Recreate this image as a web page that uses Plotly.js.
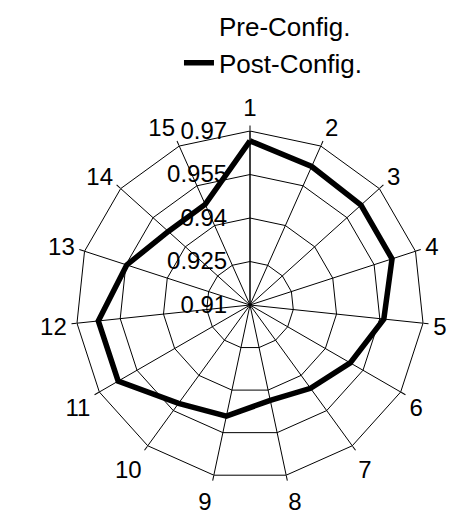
<!DOCTYPE html>
<html>
<head>
<meta charset="utf-8">
<script src="https://cdn.plot.ly/plotly-3.0.1.min.js"></script>
<style>html,body{margin:0;padding:0;background:#fff;}</style>
</head>
<body>
<div id="chart" style="width:471px;height:514px;"></div>
<script>
const categories = ['1','2','3','4','5','6','7','8','9','10','11','12','13','14','15'];
const preConfig = [null];
const postConfig = [0.9666, 0.9623, 0.9615, 0.9615, 0.9564, 0.9499, 0.9455, 0.9436, 0.9492, 0.9519, 0.9625, 0.9626, 0.9547, 0.9479, 0.9480];
const radialTicks = [0.91, 0.925, 0.94, 0.955, 0.97];
const radialTickText = ['0.91', '0.925', '0.94', '0.955', '0.97'];

const closeLoop = a => a.concat([a[0]]);

const traces = [
  {
    type: 'scatterpolar', mode: 'lines', name: 'Pre-Config.',
    r: preConfig, theta: categories.slice(0, preConfig.length),
    line: {color: 'rgba(0,0,0,0)', width: 1}, legendgroup: 'a', showlegend: true
  },
  {
    type: 'scatterpolar', mode: 'lines', name: 'Post-Config.',
    r: closeLoop(postConfig), theta: closeLoop(categories),
    line: {color: '#000', width: 5.5}, legendgroup: 'b'
  }
];

const layout = {
  width: 471, height: 514,
  margin: {l: 0, r: 0, t: 0, b: 0},
  paper_bgcolor: '#fff',
  font: {family: 'Liberation Sans, Arial, sans-serif', size: 24, color: '#000'},
  showlegend: true,
  legend: {x: 0.38, y: 0.995, xanchor: 'left', yanchor: 'top', tracegroupgap: 0,
           font: {family: 'Liberation Sans Narrow, Liberation Sans, Arial, sans-serif', size: 26},
           bgcolor: 'rgba(0,0,0,0)'},
  polar: {
    domain: {x: [0.1614, 0.9002], y: [0.0681, 0.7451]},
    gridshape: 'linear',
    bgcolor: '#fff',
    radialaxis: {
      range: [0.91, 0.97], tickvals: radialTicks, ticktext: radialTickText,
      angle: 90, side: 'counterclockwise', tickangle: 90,
      showline: true, linecolor: '#000', linewidth: 1,
      gridcolor: '#000', gridwidth: 1,
      ticks: 'outside', ticklen: 14, tickcolor: 'rgba(0,0,0,0)',
      tickfont: {size: 24}
    },
    angularaxis: {
      type: 'category', categoryarray: categories,
      direction: 'clockwise', rotation: 90,
      showline: true, linecolor: '#000', linewidth: 1,
      gridcolor: '#000', gridwidth: 1,
      ticks: 'outside', ticklen: 5, tickcolor: '#000', tickwidth: 1,
      tickfont: {size: 24}
    }
  }
};

Plotly.newPlot('chart', traces, layout, {displayModeBar: false, staticPlot: true});
</script>
</body>
</html>
